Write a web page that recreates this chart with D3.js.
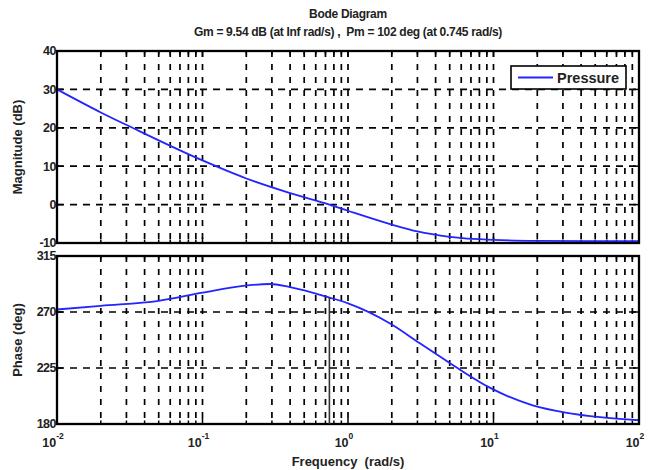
<!DOCTYPE html>
<html><head><meta charset="utf-8">
<script src="https://cdn.jsdelivr.net/npm/d3@7"></script>
<style>body{margin:0;background:#fff}svg{display:block}text{font-family:"Liberation Sans",Arial,sans-serif}</style>
</head><body><svg id="c" width="651" height="470"></svg>
<script>
const magFreq = [0.01, 0.02, 0.033, 0.1, 0.2, 0.4, 0.745, 1, 2, 3, 5, 10, 20, 50, 100];
const magDb   = [30, 24, 20, 11.5, 6.8, 3, 0, -1.6, -5.2, -7.0, -8.4, -9.2, -9.45, -9.52, -9.54];
const phFreq = [0.01, 0.02, 0.05, 0.1, 0.19, 0.29, 0.4, 0.745, 1, 2, 3.1, 5, 6, 9.5, 18.6, 32, 54, 100];
const phDeg  = [272, 275, 279, 285.5, 291, 292.5, 290, 281.6, 277, 260, 245, 229, 223, 209, 195, 189, 185.5, 183];
const magTicks = [-10, 0, 10, 20, 30, 40];
const phTicks = [180, 225, 270, 315];
const decades = [-2, -1, 0, 1, 2];
const seriesName = "Pressure";
const titleText = "Bode Diagram";
const subtitleText = "Gm = 9.54 dB (at Inf rad/s) ,  Pm = 102 deg (at 0.745 rad/s)";
const pmFreq = 0.745, pmPhase = 281.6;

const svg = d3.select("#c");
const L = 57, R = 639;
const x = d3.scaleLog().domain([0.01, 100]).range([L, R]);
const yM = d3.scaleLinear().domain([-10, 40]).range([243, 51]);
const yP = d3.scaleLinear().domain([180, 315]).range([424, 256]);
const FS = 12.5;

const minor = [];
for (let d = -2; d < 2; d++) for (let k = 1; k <= 9; k++) minor.push(k * Math.pow(10, d));
minor.push(100);

function panel(y, ticks, fr, vals) {
  const g = svg.append("g");
  const [y0, y1] = y.range();
  minor.forEach(f => {
    if (f <= 0.01 || f >= 100) return;
    g.append("line").attr("x1", x(f)).attr("x2", x(f)).attr("y1", y1).attr("y2", y0)
      .attr("stroke", "#000").attr("stroke-width", 1.7).attr("stroke-dasharray", "6,7");
  });
  ticks.forEach(t => {
    if (t === y.domain()[0] || t === y.domain()[1]) return;
    g.append("line").attr("x1", L).attr("x2", R).attr("y1", y(t)).attr("y2", y(t))
      .attr("stroke", "#000").attr("stroke-width", 1.7).attr("stroke-dasharray", "7,6");
  });
  minor.forEach(f => {
    const isMaj = Math.abs(Math.log10(f) - Math.round(Math.log10(f))) < 1e-9;
    const len = isMaj ? 6 : 3.5;
    g.append("line").attr("x1", x(f)).attr("x2", x(f)).attr("y1", y0).attr("y2", y0 - len).attr("stroke", "#000").attr("stroke-width", 1.5);
    g.append("line").attr("x1", x(f)).attr("x2", x(f)).attr("y1", y1).attr("y2", y1 + len).attr("stroke", "#000").attr("stroke-width", 1.5);
  });
  ticks.forEach(t => {
    g.append("line").attr("x1", L).attr("x2", L + 6).attr("y1", y(t)).attr("y2", y(t)).attr("stroke", "#000").attr("stroke-width", 1.5);
    g.append("line").attr("x1", R).attr("x2", R - 6).attr("y1", y(t)).attr("y2", y(t)).attr("stroke", "#000").attr("stroke-width", 1.5);
    g.append("text").attr("x", L - 1).attr("y", y(t)).attr("dy", "0.35em").attr("text-anchor", "end")
      .attr("font-size", FS).attr("font-weight", "bold").attr("fill", "#222").attr("letter-spacing", -0.5).text(t);
  });
  const pts = fr.map((f, i) => [x(f), y(vals[i])]);
  g.append("path").attr("d", d3.line().curve(d3.curveMonotoneX)(pts))
    .attr("fill", "none").attr("stroke", "#2424ff").attr("stroke-width", 1.8);
  g.append("rect").attr("x", L).attr("y", y1).attr("width", R - L).attr("height", y0 - y1)
    .attr("fill", "none").attr("stroke", "#000").attr("stroke-width", 2.3);
  return g;
}

panel(yM, magTicks, magFreq, magDb);
const gp = panel(yP, phTicks, phFreq, phDeg);
gp.append("line").attr("x1", x(pmFreq)).attr("x2", x(pmFreq)).attr("y1", yP(pmPhase)).attr("y2", yP(180))
  .attr("stroke", "#333").attr("stroke-width", 1.6);

decades.forEach(d => {
  const t = svg.append("text").attr("x", x(Math.pow(10, d)) - 4).attr("y", 447)
    .attr("text-anchor", "middle").attr("font-size", FS).attr("font-weight", "bold").attr("fill", "#222");
  t.append("tspan").text("10");
  t.append("tspan").attr("dy", -8).attr("font-size", 8.5).text(d);
});

svg.append("text").attr("x", (L + R) / 2).attr("y", 18).attr("text-anchor", "middle")
  .attr("font-size", 12).attr("font-weight", "bold").attr("fill", "#222").attr("letter-spacing", -0.3).text(titleText);
svg.append("text").attr("x", (L + R) / 2).attr("y", 36).attr("text-anchor", "middle")
  .attr("font-size", 12).attr("font-weight", "bold").attr("fill", "#222").attr("letter-spacing", -0.3).attr("xml:space", "preserve").text(subtitleText);
svg.append("text").attr("x", (L + R) / 2).attr("y", 466).attr("text-anchor", "middle")
  .attr("font-size", 13).attr("font-weight", "bold").attr("fill", "#222").attr("xml:space", "preserve").text("Frequency  (rad/s)");
svg.append("text").attr("transform", `translate(22,${(51 + 243) / 2}) rotate(-90)`).attr("text-anchor", "middle")
  .attr("font-size", 13).attr("font-weight", "bold").attr("fill", "#222").text("Magnitude (dB)");
svg.append("text").attr("transform", `translate(22,${(256 + 424) / 2}) rotate(-90)`).attr("text-anchor", "middle")
  .attr("font-size", 13).attr("font-weight", "bold").attr("fill", "#222").text("Phase (deg)");

const lg = svg.append("g");
lg.append("rect").attr("x", 511).attr("y", 66).attr("width", 115).attr("height", 23).attr("fill", "#fff").attr("stroke", "#000").attr("stroke-width", 1.6);
lg.append("line").attr("x1", 518).attr("x2", 553).attr("y1", 77.5).attr("y2", 77.5).attr("stroke", "#2424ff").attr("stroke-width", 1.8);
lg.append("text").attr("x", 557).attr("y", 77.5).attr("dy", "0.35em").attr("font-size", 14.5).attr("font-weight", "bold").attr("fill", "#222").text(seriesName);
</script></body></html>
